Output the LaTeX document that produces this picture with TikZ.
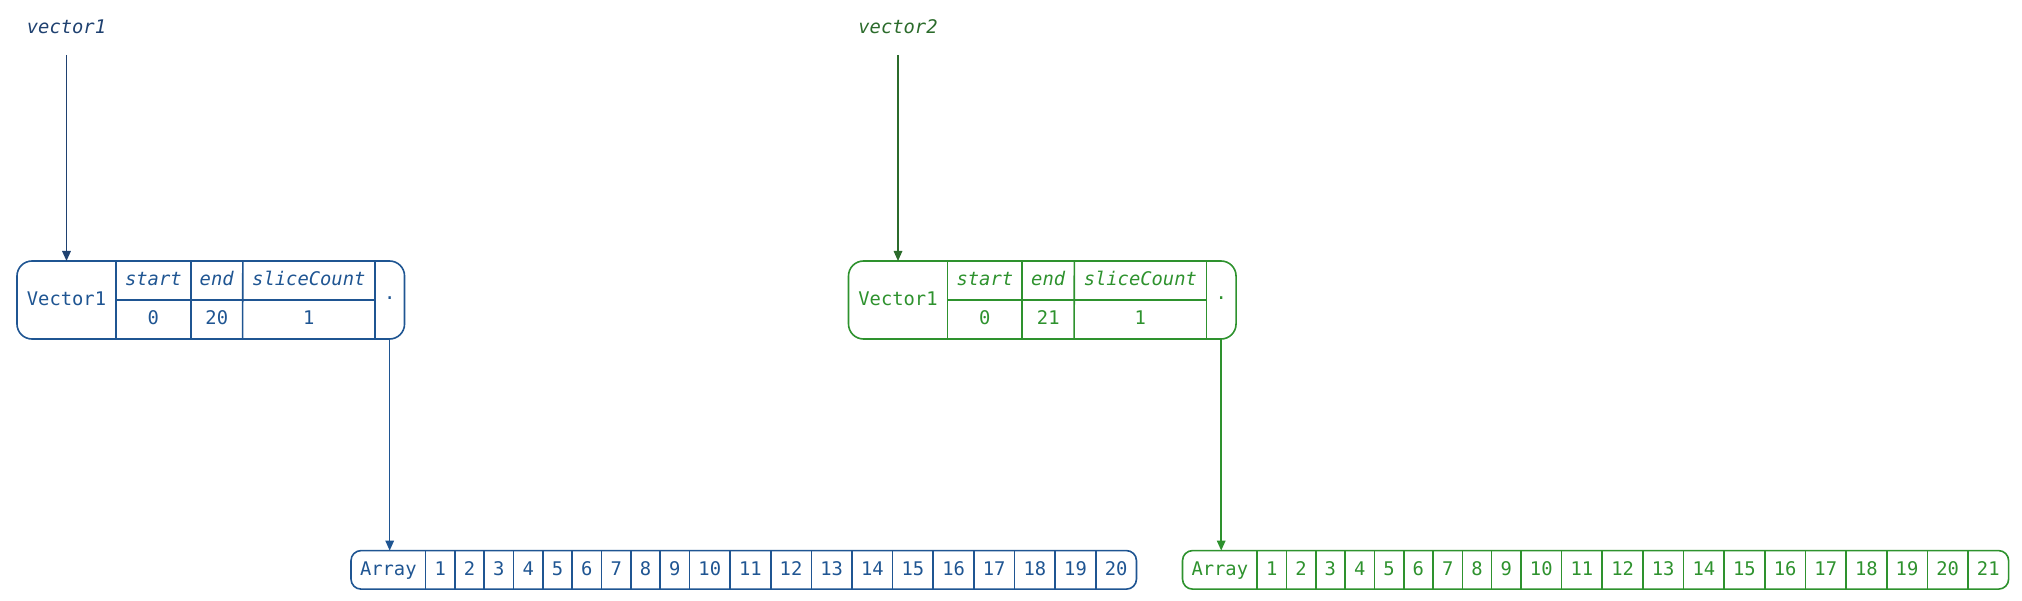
\documentclass[tikz,border=0pt]{standalone}
\usepackage{fontspec}
\setmainfont{DejaVu Sans Mono}
\usetikzlibrary{arrows.meta, positioning}

\begin{document}
\begin{tikzpicture}[x=1pt, y=-1pt, font=\fontsize{18.8}{22}\selectfont,
    cell/.style={inner xsep=9pt, inner ysep=0pt, outer sep=0pt, minimum height=39pt, text height=14pt, text depth=3pt},
    tag/.style={inner sep=0pt, outer sep=0pt, text height=14pt, text depth=3pt},
    recLine/.style={line width=1.6pt},
    link/.style={line width=1.6pt, -{Triangle[length=10pt, width=8.5pt]}}]

    % Define colours
    \definecolor{vecBlue}{HTML}{1F5592}
    \definecolor{vecBlueDark}{HTML}{1F4170}
    \definecolor{vecGreen}{HTML}{2E922E}
    \definecolor{vecGreenDark}{HTML}{2B6B2B}

    % Fix the page size
    \useasboundingbox (0,0) rectangle (2022,601);

    \foreach \vid/\xoff/\last/\recColour/\tagColour in {1/0/20/vecBlue/vecBlueDark, 2/831.5/21/vecGreen/vecGreenDark} {
    \begin{scope}[xshift=\xoff pt, \recColour]

    % Draw the variable name
    \node[tag, text=\tagColour] (vecTag\vid) at (66.5,27.8) {\textit{vector\vid}};

    % Draw the record cells
    \node[cell, minimum width=99pt, minimum height=78pt, anchor=north west] (vecName\vid) at (17,261) {Vector1};
    \node[cell, minimum width=74.7pt, anchor=north west] (vecStart\vid) at (vecName\vid.north east) {\textit{start}};
    \node[cell, minimum width=51.6pt, anchor=north west] (vecEnd\vid) at (vecStart\vid.north east) {\textit{end}};
    \node[cell, minimum width=132pt, anchor=north west] (vecSlice\vid) at (vecEnd\vid.north east) {\textit{sliceCount}};
    \node[cell, minimum width=74.7pt, anchor=north] (vecStartVal\vid) at (vecStart\vid.south) {0};
    \node[cell, minimum width=51.6pt, anchor=north] (vecEndVal\vid) at (vecEnd\vid.south) {\last};
    \node[cell, minimum width=132pt, anchor=north] (vecSliceVal\vid) at (vecSlice\vid.south) {1};
    \node[cell, minimum width=29.7pt, minimum height=78pt, text height=2pt, text depth=2pt, anchor=north west] (vecDot\vid) at (vecSlice\vid.north east) {.};

    % Draw the record borders
    \draw[recLine, rounded corners=15pt] (vecName\vid.north west) rectangle (vecDot\vid.south east);
    \draw[recLine] (vecName\vid.north east) -- (vecName\vid.south east);
    \draw[recLine] (vecStart\vid.north east) -- (vecStartVal\vid.south east);
    \draw[recLine] (vecEnd\vid.north east) -- (vecEndVal\vid.south east);
    \draw[recLine] (vecSlice\vid.north east) -- (vecSliceVal\vid.south east);
    \draw[recLine] (vecStart\vid.south west) -- (vecSlice\vid.south east);

    % Draw the array cells
    \node[cell, minimum height=38.5pt, anchor=north west] (arr\vid-0) at (351,550.6) {Array};
    \foreach \i [count=\prev from 0] in {1,...,\last}
        \node[cell, minimum height=38.5pt, right=0pt of arr\vid-\prev] (arr\vid-\i) {\i};

    % Draw the array borders
    \draw[recLine, rounded corners=10pt] (arr\vid-0.north west) rectangle (arr\vid-\last.south east);
    \foreach \i in {1,...,\last}
        \draw[recLine] (arr\vid-\i.north west) -- (arr\vid-\i.south west);

    % Draw the pointers
    \draw[link, \tagColour, shorten <=18.7pt] (vecTag\vid) -- (vecName\vid);
    \draw[link] (vecDot\vid) -- (vecDot\vid |- arr\vid-0.north);

    \end{scope}
    }

\end{tikzpicture}
\end{document}
